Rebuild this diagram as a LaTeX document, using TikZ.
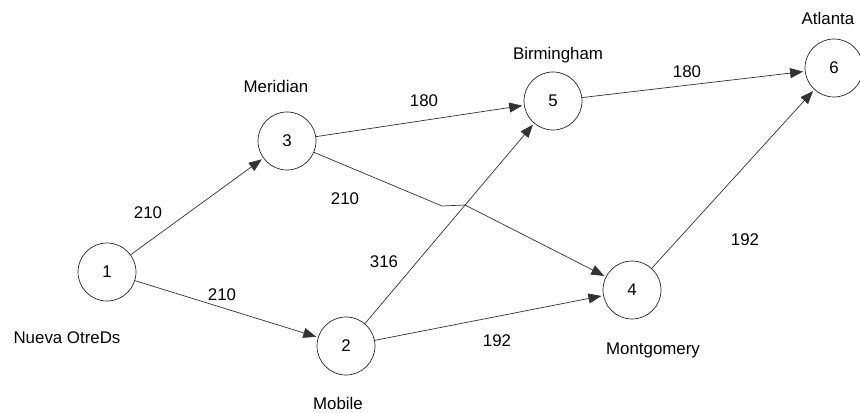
\documentclass[tikz,border=0pt]{standalone}
\usepackage{fontspec}
\setmainfont{Liberation Sans}
\usetikzlibrary{arrows.meta}
\tikzset{
  city/.style={draw=black!85, circle, thin, minimum size=1.16cm, inner sep=0pt, font=\fontsize{9.6}{11}\selectfont},
  lbl/.style={font=\fontsize{9.6}{11}\selectfont},
  road/.style={draw=black!80, thin, -{Triangle[length=2.6mm,width=2mm]}, shorten >=1pt}
}
\begin{document}
\begin{tikzpicture}
                \useasboundingbox (0,0) rectangle (17.2,8.26);
                % cities
                \node[city] (n1) at (2.14,2.82) {1};
                \node[city] (n2) at (6.92,1.34) {2};
                \node[city] (n3) at (5.74,5.44) {3};
                \node[city] (n4) at (12.64,2.46) {4};
                \node[city] (n5) at (11.06,6.24) {5};
                \node[city] (n6) at (16.68,6.90) {6};
                % names
                \node[lbl] (t1) at (1.34,1.50) {Nueva OtreDs};
                \node[lbl] (t2) at (6.76,0.20) {Mobile};
                \node[lbl] (t3) at (5.52,6.54) {Meridian};
                \node[lbl] (t4) at (13.06,1.26) {Montgomery};
                \node[lbl] (t5) at (11.16,7.16) {Birmingham};
                \node[lbl] (t6) at (16.56,7.90) {Atlanta};
                % hop where 3-4 crosses 2-5
                \coordinate (hopa) at (8.84,4.14);
                \coordinate (hopb) at (9.30,4.16);
                % roads
                \draw[road] (n1) -- (n3);
                \draw[road] (n1) -- (n2);
                \draw[road] (n3) -- (n5);
                \draw[road] (n3) -- (hopa) -- (hopb) -- (n4);
                \draw[road] (n2) -- (n5);
                \draw[road] (n2) -- (n4);
                \draw[road] (n5) -- (n6);
                \draw[road] (n4) -- (n6);
                % distances
                \node[lbl] (d13) at (2.96,4.00) {210};
                \node[lbl] (d12) at (4.44,2.36) {210};
                \node[lbl] (d35) at (8.48,6.24) {180};
                \node[lbl] (d34) at (6.90,4.28) {210};
                \node[lbl] (d25) at (7.68,3.02) {316};
                \node[lbl] (d24) at (9.94,1.44) {192};
                \node[lbl] (d46) at (14.90,3.46) {192};
                \node[lbl] (d56) at (13.74,6.82) {180};
\end{tikzpicture}
\end{document}
